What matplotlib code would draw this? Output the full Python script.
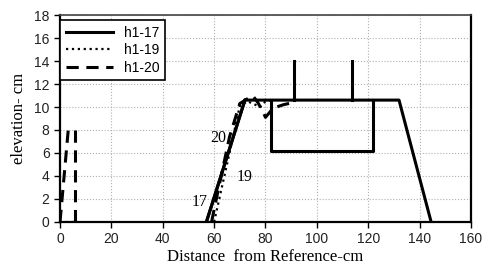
import matplotlib
matplotlib.use("Agg")
import matplotlib.pyplot as plt

# structure (breakwater outline)
struct_x = [57, 72, 132, 144.5]
struct_y = [0, 10.6, 10.6, 0]
box_x = [82, 82, 122, 122]
box_y = [10.6, 6.2, 6.2, 10.6]
post1_x = [91, 91]
post2_x = [113.5, 113.5]
post_y = [10.6, 14]

# profiles
h17_x = [57, 72]
h17_y = [0, 10.6]
h19_x = [60, 63, 66, 70, 73, 75, 78, 80, 82]
h19_y = [0, 3.0, 6.0, 10.1, 10.5, 10.3, 10.0, 10.5, 10.6]
h20_x = [59, 62, 66, 70, 75, 77, 79, 80, 83, 87, 91]
h20_y = [0, 3.2, 7.4, 10.3, 11.0, 10.4, 9.6, 9.1, 9.9, 10.2, 10.4]

# small marks at the wave maker
wm20_x = [0, 3.2]
wm20_y = [0, 8]
wm20b_x = [5.8, 5.8]
wm20b_y = [8, 0]
wm19_x = [0, 6]
wm19_y = [0, 0]

# profile labels
lab_text = ["17", "19", "20"]
lab_x = [54.5, 72, 61.5]
lab_y = [1.7, 3.9, 7.3]

fig = plt.figure(figsize=(4.84, 2.69), dpi=100)
ax = fig.add_axes([0.124, 0.175, 0.849, 0.769])

lw = 2.2
ax.plot(h17_x, h17_y, color="black", lw=lw, linestyle="-", label="h1-17")
ax.plot(h19_x, h19_y, color="black", lw=1.6, linestyle=":", label="h1-19")
ax.plot(h20_x, h20_y, color="black", lw=lw, linestyle=(0, (4, 2.5)), label="h1-20")
ax.plot(struct_x, struct_y, color="black", lw=lw)
ax.plot(box_x, box_y, color="black", lw=lw)
ax.plot(post1_x, post_y, color="black", lw=lw)
ax.plot(post2_x, post_y, color="black", lw=lw)
ax.plot(wm20_x, wm20_y, color="black", lw=lw, linestyle=(0, (4, 2.5)))
ax.plot(wm20b_x, wm20b_y, color="black", lw=lw, linestyle=(0, (4, 2.5)))
ax.plot(wm19_x, wm19_y, color="black", lw=1.6, linestyle=":")

serif = ["Liberation Serif", "DejaVu Serif"]
for t, x, y in zip(lab_text, lab_x, lab_y):
    ax.text(x, y, t, fontsize=11.5, family=serif, ha="center", va="center")

ax.set_xlim(0, 160)
ax.set_ylim(0, 18)
ax.set_xticks(range(0, 161, 20))
ax.set_yticks(range(0, 19, 2))
ax.grid(True, color="#b0b0b0", linestyle=":", linewidth=0.8)
ax.tick_params(labelsize=10, length=4, width=1, direction="out", labelcolor="#222222")
for lab in ax.get_xticklabels() + ax.get_yticklabels():
    lab.set_family("Liberation Sans")
for s in ["left", "bottom", "right"]:
    ax.spines[s].set_linewidth(1.6)
ax.spines["top"].set_color("#444444")
ax.spines["top"].set_linewidth(1.2)

ax.set_xlabel("Distance  from Reference-cm", fontsize=12, family=serif, labelpad=2)
ax.set_ylabel("elevation- cm", fontsize=12, family=serif, labelpad=5)

leg = ax.legend(loc="upper left", bbox_to_anchor=(0.0, 0.975), fancybox=False,
                edgecolor="black", framealpha=1, handlelength=3.4,
                borderaxespad=0, labelspacing=0.25,
                prop={"family": "Liberation Sans", "size": 10})
leg.get_frame().set_linewidth(1.2)

fig.savefig("out.png", dpi=100)
